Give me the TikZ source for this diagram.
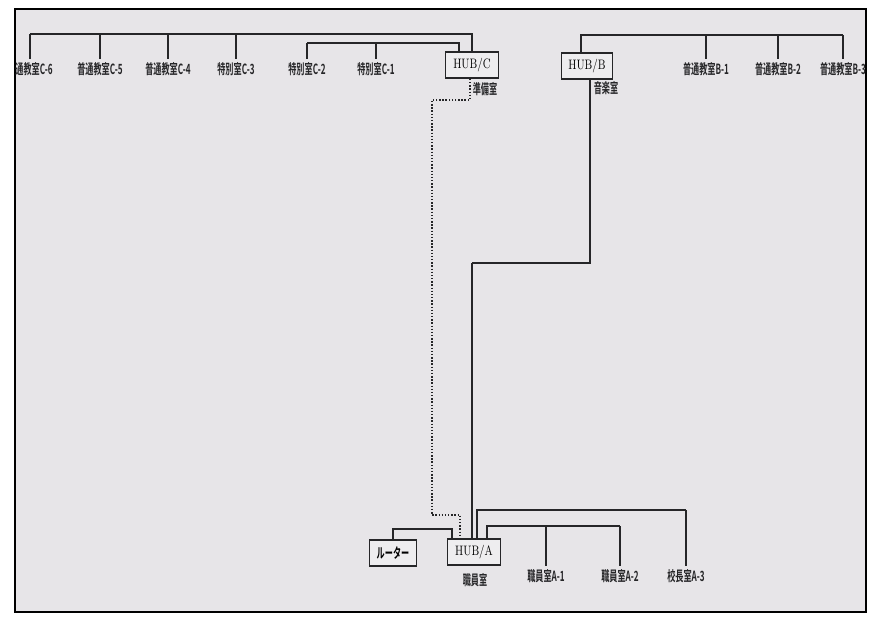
\documentclass[tikz,border=0pt]{standalone}
\usepackage{fontspec}
\usepackage{graphicx}
\newfontfamily\jpfont{Noto Sans CJK JP}[BoldFont={Noto Sans CJK JP Bold}]
\definecolor{paper}{RGB}{231,229,232}
\definecolor{ink}{RGB}{38,38,40}
\newcommand{\roomtext}[1]{{\jpfont\bfseries\fontsize{8}{9}\selectfont\scalebox{0.58}[1]{#1}}}
\newcommand{\hubtext}[1]{{\fontsize{7.8}{8}\selectfont\scalebox{0.75}[1]{#1}}}
\tikzset{bus/.style={line width=1.2pt, color=ink}}
\tikzset{drop/.style={line width=0.6pt, color=ink}}
\tikzset{link/.style={line width=0.8pt, color=ink}}
\tikzset{dots/.style={line width=0.8pt, color=ink, densely dotted}}
\tikzset{hub/.style={draw=ink, line width=1pt, fill=paper!70!white, minimum width=1.06cm, minimum height=0.52cm, inner sep=1pt}}
\tikzset{room/.style={inner sep=0pt, outer sep=2pt, text=ink}}

\begin{document}
\begin{tikzpicture}[x=0.02cm, y=-0.02cm]
        \useasboundingbox (0,0) rectangle (869,616);
        \draw[line width=1.2pt, fill=paper] (15,9) rectangle (866,612);

        \begin{scope}
        \clip (15,9) rectangle (866,612);

        % hubs
        \node[hub] (Hc) at (472,65) {\hubtext{HUB/C}};
        \node[hub, minimum width=1.02cm] (Hb) at (587,66) {\hubtext{HUB/B}};
        \node[hub] (Ha) at (474,552) {\hubtext{HUB/A}};
        \node[hub, minimum width=0.94cm] (Rt) at (393,553) {\roomtext{ルーター}};

        \node[room] (Lc) at (485,89) {\roomtext{準備室}};
        \node[room] (Lb) at (606,88) {\roomtext{音楽室}};
        \node[room] (La) at (475,580) {\roomtext{職員室}};

        % rooms
        \node[room] (C6) at (30,69) {\roomtext{普通教室C-6}};
        \node[room] (C5) at (100,69) {\roomtext{普通教室C-5}};
        \node[room] (C4) at (168,69) {\roomtext{普通教室C-4}};
        \node[room] (C3) at (236,69) {\roomtext{特別室C-3}};
        \node[room] (C2) at (307,69) {\roomtext{特別室C-2}};
        \node[room] (C1) at (376,69) {\roomtext{特別室C-1}};
        \node[room] (B1) at (706,69) {\roomtext{普通教室B-1}};
        \node[room] (B2) at (778,69) {\roomtext{普通教室B-2}};
        \node[room] (B3) at (843,69) {\roomtext{普通教室B-3}};
        \node[room] (A1) at (546,576) {\roomtext{職員室A-1}};
        \node[room] (A2) at (620,576) {\roomtext{職員室A-2}};
        \node[room] (A3) at (686,576) {\roomtext{校長室A-3}};

        \coordinate (busC) at (0,34);
        \coordinate (busCi) at (0,43);
        \coordinate (busB) at (0,35);
        \coordinate (busAo) at (0,510);
        \coordinate (busAi) at (0,526);
        \coordinate (busR) at (0,529);
        \coordinate (d1) at (432,100);
        \coordinate (d2) at (432,515);
        \coordinate (s2) at (472,263);

        % building C
        \draw [bus] (C6.north |- busC) -| (Hc.north);
        \foreach \n in {C6,C5,C4,C3}
            \draw [drop] (\n.north) -- (\n.north |- busC);
        \draw [bus] (C2.north |- busCi) -| ([xshift=-0.26cm]Hc.north);
        \foreach \n in {C2,C1}
            \draw [drop] (\n.north) -- (\n.north |- busCi);

        % building B
        \draw [bus] ([xshift=-0.12cm]Hb.north) |- (B3.north |- busB);
        \foreach \n in {B1,B2,B3}
            \draw [drop] (\n.north) -- (\n.north |- busB);

        % trunks to HUB/A
        \draw [dots] ([xshift=-0.04cm]Hc.south) |- (d1) -- (d2) -| ([xshift=-0.28cm]Ha.north);
        \draw [link] ([xshift=0.06cm]Hb.south) |- (s2);
        \draw [bus, line width=1.6pt] ([xshift=0.06cm]Hb.south |- s2) -- (s2);
        \draw [drop] (s2) -- (s2 |- Ha.north);
        \draw [link] (Rt.north) |- ([xshift=-0.44cm]Ha.north |- busR) -- ([xshift=-0.44cm]Ha.north);

        % building A
        \draw [bus] ([xshift=0.06cm]Ha.north) |- (A3.north |- busAo);
        \draw [drop] (A3.north) -- (A3.north |- busAo);
        \draw [bus] ([xshift=0.26cm]Ha.north) |- (A2.north |- busAi);
        \foreach \n in {A1,A2}
            \draw [drop] (\n.north) -- (\n.north |- busAi);
        \end{scope}
    \end{tikzpicture}
\end{document}
